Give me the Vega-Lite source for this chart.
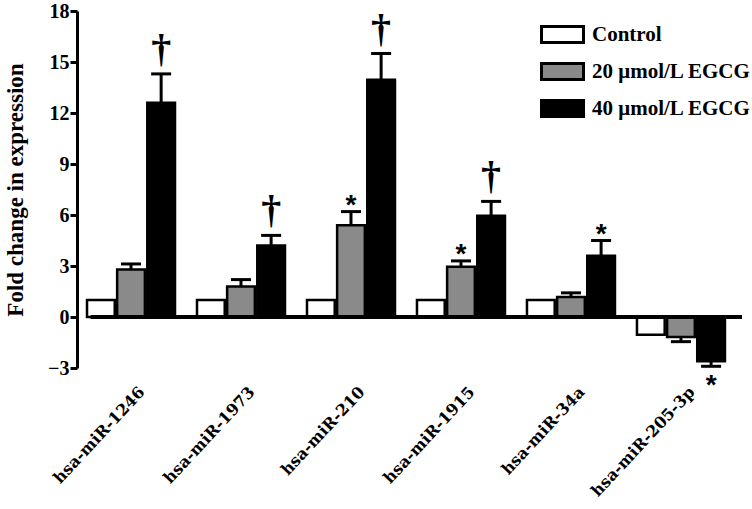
{
  "$schema": "https://vega.github.io/schema/vega-lite/v6.json",
  "autosize": {"type": "none"},
  "padding": {"left": 77, "top": 11, "right": 10, "bottom": 141},
  "width": 665,
  "height": 357,
  "background": "white",
  "config": {"view": {"stroke": null}, "font": "Liberation Serif"},
  "data": {"values": [
    {"mirna": "hsa-miR-1246", "group": "Control", "value": 1.0, "err": null, "ann": ""},
    {"mirna": "hsa-miR-1246", "group": "20 μmol/L EGCG", "value": 2.8, "err": 3.12, "ann": ""},
    {"mirna": "hsa-miR-1246", "group": "40 μmol/L EGCG", "value": 12.6, "err": 14.3, "ann": "†"},
    {"mirna": "hsa-miR-1973", "group": "Control", "value": 1.0, "err": null, "ann": ""},
    {"mirna": "hsa-miR-1973", "group": "20 μmol/L EGCG", "value": 1.8, "err": 2.2, "ann": ""},
    {"mirna": "hsa-miR-1973", "group": "40 μmol/L EGCG", "value": 4.2, "err": 4.8, "ann": "†"},
    {"mirna": "hsa-miR-210", "group": "Control", "value": 1.0, "err": null, "ann": ""},
    {"mirna": "hsa-miR-210", "group": "20 μmol/L EGCG", "value": 5.4, "err": 6.2, "ann": "*"},
    {"mirna": "hsa-miR-210", "group": "40 μmol/L EGCG", "value": 13.95, "err": 15.5, "ann": "†"},
    {"mirna": "hsa-miR-1915", "group": "Control", "value": 1.0, "err": null, "ann": ""},
    {"mirna": "hsa-miR-1915", "group": "20 μmol/L EGCG", "value": 2.95, "err": 3.3, "ann": "*"},
    {"mirna": "hsa-miR-1915", "group": "40 μmol/L EGCG", "value": 5.95, "err": 6.8, "ann": "†"},
    {"mirna": "hsa-miR-34a", "group": "Control", "value": 1.0, "err": null, "ann": ""},
    {"mirna": "hsa-miR-34a", "group": "20 μmol/L EGCG", "value": 1.17, "err": 1.42, "ann": ""},
    {"mirna": "hsa-miR-34a", "group": "40 μmol/L EGCG", "value": 3.6, "err": 4.5, "ann": "*"},
    {"mirna": "hsa-miR-205-3p", "group": "Control", "value": -1.05, "err": null, "ann": ""},
    {"mirna": "hsa-miR-205-3p", "group": "20 μmol/L EGCG", "value": -1.17, "err": -1.45, "ann": ""},
    {"mirna": "hsa-miR-205-3p", "group": "40 μmol/L EGCG", "value": -2.6, "err": -2.9, "ann": "*"}
  ]},
  "encoding": {
    "x": {
      "field": "mirna", "type": "nominal", "sort": null,
      "scale": {"paddingInner": 0.2, "paddingOuter": 0.123, "align": 0.37},
      "axis": {
        "title": null, "domain": false, "ticks": false,
        "labelAngle": -47, "labelAlign": "right", "labelBaseline": "middle",
        "labelPadding": 21, "labelOffset": 11,
        "labelFont": "DejaVu Serif", "labelFontWeight": "bold", "labelFontSize": 16, "labelColor": "black"
      }
    },
    "xOffset": {"field": "group", "type": "nominal", "sort": null, "scale": {"paddingInner": 0.08, "paddingOuter": 0}}
  },
  "layer": [
    {
      "mark": {"type": "bar", "stroke": "black", "strokeWidth": 2.5},
      "encoding": {
        "y": {
          "field": "value", "type": "quantitative",
          "scale": {"domain": [-3, 18], "nice": false, "zero": false},
          "axis": {
            "values": [-3, 0, 3, 6, 9, 12, 15, 18],
            "title": "Fold change in expression",
            "titleFont": "Liberation Serif", "titleFontWeight": "bold", "titleFontSize": 23, "titleColor": "black",
            "titleX": -50,
            "labelFont": "Liberation Serif", "labelFontWeight": "bold", "labelFontSize": 20, "labelColor": "black",
            "labelPadding": 1,
            "grid": false, "domainColor": "black", "domainWidth": 3,
            "tickColor": "black", "tickWidth": 3, "tickSize": 7
          }
        },
        "fill": {
          "field": "group", "type": "nominal", "sort": null,
          "scale": {"domain": ["Control", "20 μmol/L EGCG", "40 μmol/L EGCG"], "range": ["#ffffff", "#8a8a8a", "#000000"]},
          "legend": {
            "title": null, "orient": "none", "legendX": 463, "legendY": 1,
            "symbolType": "M-1,-0.38H1V0.38H-1Z", "symbolSize": 1764,
            "symbolStrokeColor": "black", "symbolStrokeWidth": 3, "symbolOpacity": 1,
            "rowPadding": -16, "labelOffset": 7,
            "labelFont": "Liberation Serif", "labelFontWeight": "bold", "labelFontSize": 21, "labelColor": "black"
          }
        }
      }
    },
    {
      "transform": [{"filter": "datum.err != null"}],
      "mark": {"type": "rule", "color": "black", "strokeWidth": 3},
      "encoding": {"y": {"field": "value", "type": "quantitative"}, "y2": {"field": "err"}}
    },
    {
      "transform": [{"filter": "datum.err != null"}],
      "mark": {"type": "tick", "color": "black", "thickness": 3, "size": 20, "orient": "horizontal", "opacity": 1},
      "encoding": {"y": {"field": "err", "type": "quantitative"}}
    },
    {
      "transform": [{"filter": "datum.ann == '†' "}],
      "mark": {"type": "text", "color": "black", "fontSize": 40, "fontWeight": "bold", "font": "Liberation Serif", "baseline": "bottom", "dy": -4},
      "encoding": {"y": {"field": "err", "type": "quantitative"}, "text": {"field": "ann"}}
    },
    {
      "transform": [{"filter": "datum.ann == '*' && datum.value > 0"}],
      "mark": {"type": "text", "color": "black", "fontSize": 28, "fontWeight": "bold", "font": "Liberation Sans", "baseline": "top", "dy": -20},
      "encoding": {"y": {"field": "err", "type": "quantitative"}, "text": {"field": "ann"}}
    },
    {
      "transform": [{"filter": "datum.ann == '*' && datum.value < 0"}],
      "mark": {"type": "text", "color": "black", "fontSize": 28, "fontWeight": "bold", "font": "Liberation Sans", "baseline": "top", "dy": 6},
      "encoding": {"y": {"field": "err", "type": "quantitative"}, "text": {"field": "ann"}}
    },
    {
      "mark": {"type": "rule", "color": "black", "strokeWidth": 3},
      "encoding": {"y": {"datum": 0, "type": "quantitative"}, "x": {"value": 0}, "x2": {"value": 665}}
    }
  ]
}
